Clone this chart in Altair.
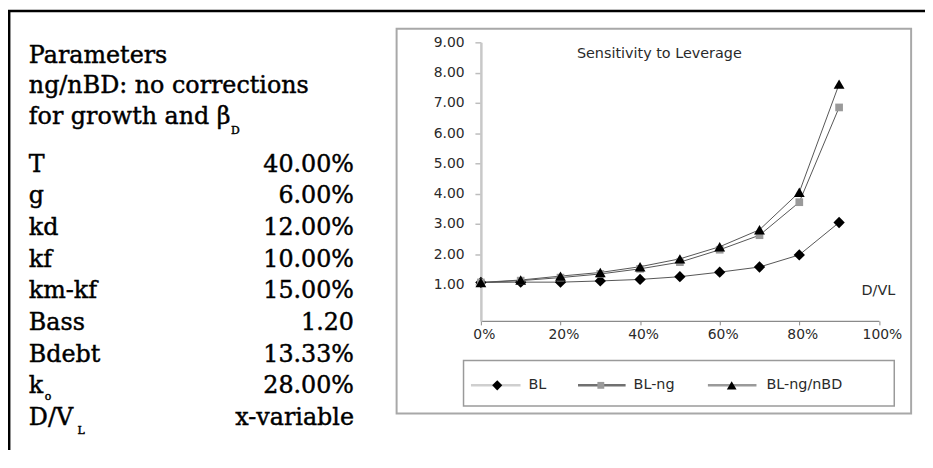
import altair as alt
import pandas as pd

# ---------------- data ----------------
dv = [0.0, 0.1, 0.2, 0.3, 0.4, 0.5, 0.6, 0.7, 0.8, 0.9]
bl = [1.07, 1.08, 1.08, 1.12, 1.17, 1.26, 1.41, 1.58, 1.98, 3.05]
bl_ng = [1.07, 1.13, 1.23, 1.35, 1.52, 1.74, 2.15, 2.63, 3.72, 6.85]
bl_ng_nbd = [1.07, 1.15, 1.28, 1.40, 1.59, 1.85, 2.25, 2.81, 4.05, 7.62]

series_names = ["BL", "BL-ng", "BL-ng/nBD"]
series_values = [bl, bl_ng, bl_ng_nbd]
series_shapes = ["diamond", "square", "triangle-up"]
series_fill = ["#000000", "#9a9a9a", "#000000"]
series_size = [130, 60, 120]
legend_line_colors = ["#cfcfcf", "#707070", "#9a9a9a"]

y_ticks = [1, 2, 3, 4, 5, 6, 7, 8, 9]
x_ticks = [0, 0.2, 0.4, 0.6, 0.8, 1.0]

header_lines = ["Parameters", "ng/nBD: no corrections", "for growth and \u03b2"]
param_labels = ["T", "g", "kd", "kf", "km-kf", "Bass", "Bdebt", "k", "D/V"]
param_values = ["40.00%", "6.00%", "12.00%", "10.00%", "15.00%", "1.20",
                "13.33%", "28.00%", "x-variable"]

chart_title = "Sensitivity to Leverage"
x_label = "D/VL"

# ---------------- layout (page pixels) ----------------
PX0, PY0 = 485, 40.7          # plot-area origin on the page
W, H = 401.5, 281             # plot area
TOTAL_W, TOTAL_H = 925, 444


def rx(px):
    return px - PX0


def ry(py):
    return py - PY0


dummy = pd.DataFrame({"a": [0]})
SANS = "DejaVu Sans"
SERIF = "DejaVu Serif"
TXT = "#2a2a2a"
SERIF_SIZE = 24
SERIF_STYLE = dict(font=SERIF, color="#000000", stroke="#000000", strokeWidth=0.45)

rows = []
for name, vals in zip(series_names, series_values):
    for x, v in zip(dv, vals):
        rows.append({"dv": x, "value": v, "series": name})
df = pd.DataFrame(rows)

xaxis = alt.Axis(values=x_ticks, format=".0%", title=None, grid=False,
                 labelFont=SANS, labelFontSize=14, labelColor=TXT,
                 labelOffset=3, labelPadding=3, domainColor="#8a8a8a",
                 domainWidth=1.2, tickColor="#8a8a8a", tickSize=4,
                 labelFlush=False, labelOverlap=False)
yaxis = alt.Axis(values=y_ticks, format=".2f", title=None, grid=False,
                 labelFont=SANS, labelFontSize=14, labelColor=TXT,
                 labelPadding=11, domainColor="#c8c8c8", domainWidth=2.5,
                 tickColor="#bdbdbd", tickSize=6, tickWidth=1.5,
                 labelOverlap=False, labelFlush=False)
xenc = alt.X("dv:Q", scale=alt.Scale(domain=[0, 1]), axis=xaxis)
yenc = alt.Y("value:Q", scale=alt.Scale(domain=[-0.2, 9]), axis=yaxis)

layers = []

# decorative frames
layers.append(alt.Chart(dummy).mark_rect(fill=None, stroke="#a8a8a8", strokeWidth=2).encode(
    x=alt.value(rx(400)), x2=alt.value(rx(919)), y=alt.value(ry(27)), y2=alt.value(ry(415))))
layers.append(alt.Chart(dummy).mark_rule(color="#000000", strokeWidth=2.5).encode(
    x=alt.value(rx(8)), x2=alt.value(rx(8 + TOTAL_W)), y=alt.value(ry(9.2))))
layers.append(alt.Chart(dummy).mark_rule(color="#000000", strokeWidth=2.5).encode(
    x=alt.value(rx(9.2)), y=alt.value(ry(8)), y2=alt.value(ry(8 + TOTAL_H))))

# data lines
layers.append(alt.Chart(df).mark_line(strokeWidth=1, color="#555555").encode(
    x=xenc, y=yenc, detail="series:N"))

# data markers
for name, shp, fc, sz in zip(series_names, series_shapes, series_fill, series_size):
    layers.append(alt.Chart(df).transform_filter(alt.datum.series == name).mark_point(
        shape=shp, filled=True, fill=fc, opacity=1, size=sz, strokeWidth=0).encode(
        x=xenc, y=yenc))

# chart title and x label
layers.append(alt.Chart(dummy).mark_text(text=chart_title, font=SANS, fontSize=14.5,
                                         color=TXT, align="center", baseline="middle").encode(
    x=alt.value(rx(665)), y=alt.value(ry(52))))
layers.append(alt.Chart(dummy).mark_text(text=x_label, font=SANS, fontSize=14.5,
                                         color=TXT, align="center", baseline="middle").encode(
    x=alt.value(rx(886)), y=alt.value(ry(292))))

# legend box
layers.append(alt.Chart(dummy).mark_rect(fill=None, stroke="#9a9a9a", strokeWidth=1.5).encode(
    x=alt.value(rx(467.5)), x2=alt.value(rx(902)), y=alt.value(ry(361.7)), y2=alt.value(ry(407.5))))
leg_line_x = [(475, 525), (583, 631), (714, 763)]
leg_mark_x = [501.5, 606, 738]
leg_text_x = [533, 639, 773]
LEG_Y = 386.7
for i, name in enumerate(series_names):
    layers.append(alt.Chart(dummy).mark_rule(color=legend_line_colors[i], strokeWidth=2.5).encode(
        x=alt.value(rx(leg_line_x[i][0])), x2=alt.value(rx(leg_line_x[i][1])), y=alt.value(ry(LEG_Y))))
    layers.append(alt.Chart(dummy).mark_point(shape=series_shapes[i], filled=True,
                                              fill=series_fill[i], opacity=1,
                                              size=series_size[i] * 0.8, strokeWidth=0).encode(
        x=alt.value(rx(leg_mark_x[i])), y=alt.value(ry(LEG_Y))))
    layers.append(alt.Chart(dummy).mark_text(text=name, font=SANS, fontSize=14.5, color=TXT,
                                             align="left", baseline="middle").encode(
        x=alt.value(rx(leg_text_x[i])), y=alt.value(ry(LEG_Y))))

# parameter panel (left)
header_base = [62, 92, 123]
for t, b in zip(header_lines, header_base):
    layers.append(alt.Chart(dummy).mark_text(text=t, fontSize=SERIF_SIZE, align="left",
                                             baseline="alphabetic", **SERIF_STYLE).encode(
        x=alt.value(rx(29)), y=alt.value(ry(b))))
layers.append(alt.Chart(dummy).mark_text(text="D", fontSize=11, align="left",
                                         baseline="alphabetic", **SERIF_STYLE).encode(
    x=alt.value(rx(233)), y=alt.value(ry(133))))

for i, (lab, val) in enumerate(zip(param_labels, param_values)):
    b = 171 + i * 31.95
    layers.append(alt.Chart(dummy).mark_text(text=lab, fontSize=SERIF_SIZE, align="left",
                                             baseline="alphabetic", **SERIF_STYLE).encode(
        x=alt.value(rx(29)), y=alt.value(ry(b))))
    layers.append(alt.Chart(dummy).mark_text(text=val, fontSize=SERIF_SIZE, align="right",
                                             baseline="alphabetic", **SERIF_STYLE).encode(
        x=alt.value(rx(357)), y=alt.value(ry(b))))

layers.append(alt.Chart(dummy).mark_text(text="o", fontSize=11, align="left",
                                         baseline="alphabetic", **SERIF_STYLE).encode(
    x=alt.value(rx(45)), y=alt.value(ry(401))))
layers.append(alt.Chart(dummy).mark_text(text="L", fontSize=11, align="left",
                                         baseline="alphabetic", **SERIF_STYLE).encode(
    x=alt.value(rx(78)), y=alt.value(ry(436))))

chart = alt.layer(*layers).properties(
    width=W, height=H,
    autosize=alt.AutoSizeParams(type="none"),
    padding={"left": PX0 - 8, "top": PY0 - 8,
             "right": TOTAL_W - (PX0 - 8) - W,
             "bottom": TOTAL_H - (PY0 - 8) - H},
    background="white",
).configure_view(stroke=None)

chart.save("out.html", embed_options={"renderer": "svg", "actions": False})
